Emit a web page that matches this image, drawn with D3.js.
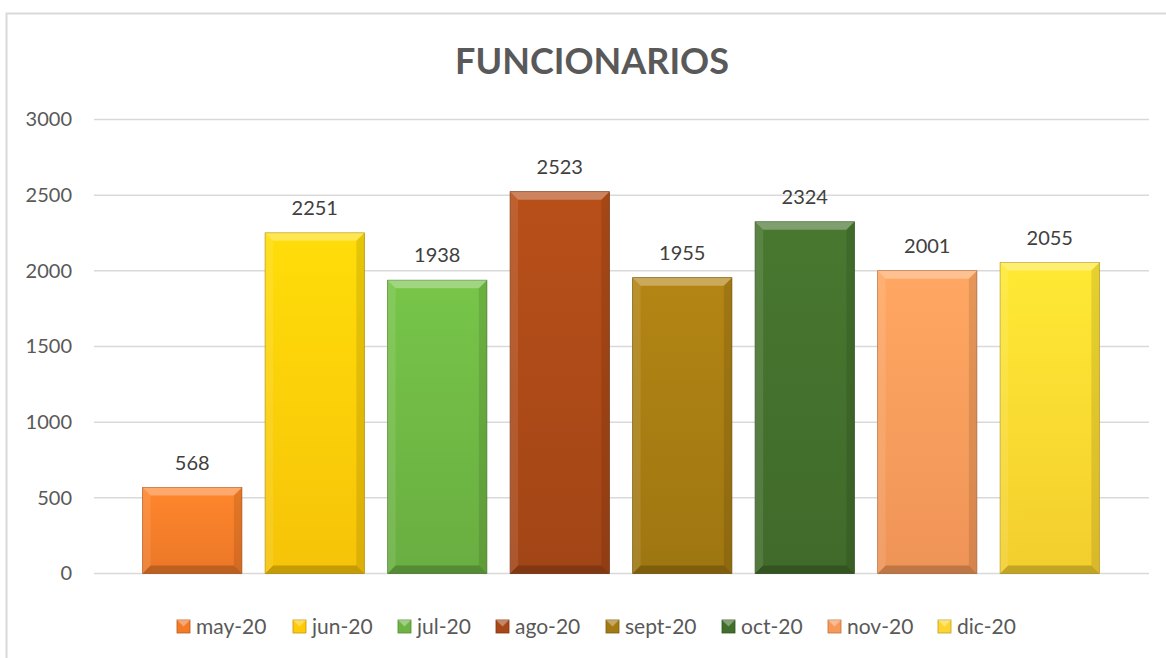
<!DOCTYPE html>
<html>
<head>
<meta charset="utf-8">
<script src="https://cdn.jsdelivr.net/npm/d3@7"></script>
<style>
  body { margin: 0; background: #fff; }
  svg { display: block; font-family: Lato, "Open Sans", sans-serif; }
</style>
</head>
<body>
<svg id="chart" width="1166" height="658"></svg>
<script>
// Data
const months = ["may-20", "jun-20", "jul-20", "ago-20", "sept-20", "oct-20", "nov-20", "dic-20"];
const values = [568, 2251, 1938, 2523, 1955, 2324, 2001, 2055];
const colors = ["#F47B28", "#FFCA08", "#6DB443", "#A84817", "#A47A12", "#426E2C", "#F8995A", "#FCD530"];
const ticks = [0, 500, 1000, 1500, 2000, 2500, 3000];
const title = "FUNCIONARIOS";

const svg = d3.select("#chart");

// Chart frame
svg.append("rect")
    .attr("x", 6.5).attr("y", 13.5)
    .attr("width", 1200).attr("height", 700)
    .attr("fill", "none")
    .attr("stroke", "#d9d9d9")
    .attr("stroke-width", 2);

// Title
svg.append("text")
    .attr("x", 592).attr("y", 74)
    .attr("text-anchor", "middle")
    .attr("font-size", 36)
    .attr("font-weight", "bold")
    .attr("fill", "#595959")
    .text(title);

// Scales
const y = d3.scaleLinear().domain([0, 3000]).range([573.5, 119.5]);
const x = d3.scaleBand().domain(months).range([131, 1111]).paddingInner(0.19).paddingOuter(0.095);

// Soft vertical shading for each bar
const defs = svg.append("defs");
colors.forEach((c, i) => {
    const g = defs.append("linearGradient")
        .attr("id", "grad" + i)
        .attr("x1", 0).attr("y1", 0).attr("x2", 0).attr("y2", 1);
    g.append("stop").attr("offset", "0%").attr("stop-color", d3.color(c).brighter(0.25));
    g.append("stop").attr("offset", "100%").attr("stop-color", d3.color(c).darker(0.1));
});

// Grid lines
svg.append("g").selectAll("line")
    .data(ticks)
    .join("line")
    .attr("x1", 94).attr("x2", 1149)
    .attr("y1", d => y(d)).attr("y2", d => y(d))
    .attr("stroke", "#d9d9d9")
    .attr("stroke-width", 1.5);

// Y axis labels
const yAxis = d3.axisLeft(y).tickValues(ticks).tickFormat(d3.format("d")).tickSize(0).tickPadding(0);
svg.append("g")
    .attr("transform", "translate(72,0)")
    .call(yAxis)
    .call(g => g.select(".domain").remove())
    .call(g => g.selectAll("text")
        .attr("font-family", "Lato, sans-serif")
        .attr("font-size", 20)
        .attr("fill", "#595959"));

// Bevel-ish bars: base rect plus light / dark edges
const bev = 8;
const bars = svg.append("g").selectAll("g")
    .data(months.map((m, i) => ({ m, v: values[i], c: colors[i], i })))
    .join("g");

bars.append("rect")
    .attr("x", d => x(d.m))
    .attr("y", d => y(d.v))
    .attr("width", x.bandwidth())
    .attr("height", d => y(0) - y(d.v))
    .attr("fill", d => `url(#grad${d.i})`)
    .attr("stroke", d => d3.color(d.c).darker(0.8))
    .attr("stroke-width", 0.8);

function edge(d, side) {
    const x0 = x(d.m), x1 = x0 + x.bandwidth();
    const y0 = y(d.v), y1 = y(0);
    if (side === "top") return [[x0, y0], [x1, y0], [x1 - bev, y0 + bev], [x0 + bev, y0 + bev]];
    if (side === "bottom") return [[x0, y1], [x1, y1], [x1 - bev, y1 - bev], [x0 + bev, y1 - bev]];
    if (side === "left") return [[x0, y0], [x0 + bev, y0 + bev], [x0 + bev, y1 - bev], [x0, y1]];
    return [[x1, y0], [x1 - bev, y0 + bev], [x1 - bev, y1 - bev], [x1, y1]];
}
const shades = [
    { side: "top", fill: "#fff", op: 0.3 },
    { side: "left", fill: "#fff", op: 0.1 },
    { side: "right", fill: "#000", op: 0.1 },
    { side: "bottom", fill: "#000", op: 0.2 }
];
shades.forEach(s => {
    bars.append("polygon")
        .attr("points", d => edge(d, s.side).map(p => p.join(",")).join(" "))
        .attr("fill", s.fill)
        .attr("fill-opacity", s.op);
});

// Data labels
bars.append("text")
    .attr("x", d => x(d.m) + x.bandwidth() / 2)
    .attr("y", d => y(d.v) - 18)
    .attr("text-anchor", "middle")
    .attr("font-size", 20)
    .attr("fill", "#404040")
    .text(d => d.v);

// Legend
const legendX = [177, 293, 398, 496, 606, 722, 828, 938];
const legend = svg.append("g").selectAll("g")
    .data(months)
    .join("g")
    .attr("transform", (d, i) => `translate(${legendX[i]},620)`);

legend.append("rect")
    .attr("width", 13).attr("height", 13)
    .attr("fill", (d, i) => colors[i])
    .attr("stroke", (d, i) => d3.color(colors[i]).darker(0.8))
    .attr("stroke-width", 0.8);
legend.append("polygon")
    .attr("points", "0,0 13,0 6.5,6.5")
    .attr("fill", "#fff").attr("fill-opacity", 0.35);
legend.append("text")
    .attr("x", 19).attr("y", 14)
    .attr("font-size", 21)
    .attr("fill", "#595959")
    .text(d => d);
</script>
</body>
</html>
